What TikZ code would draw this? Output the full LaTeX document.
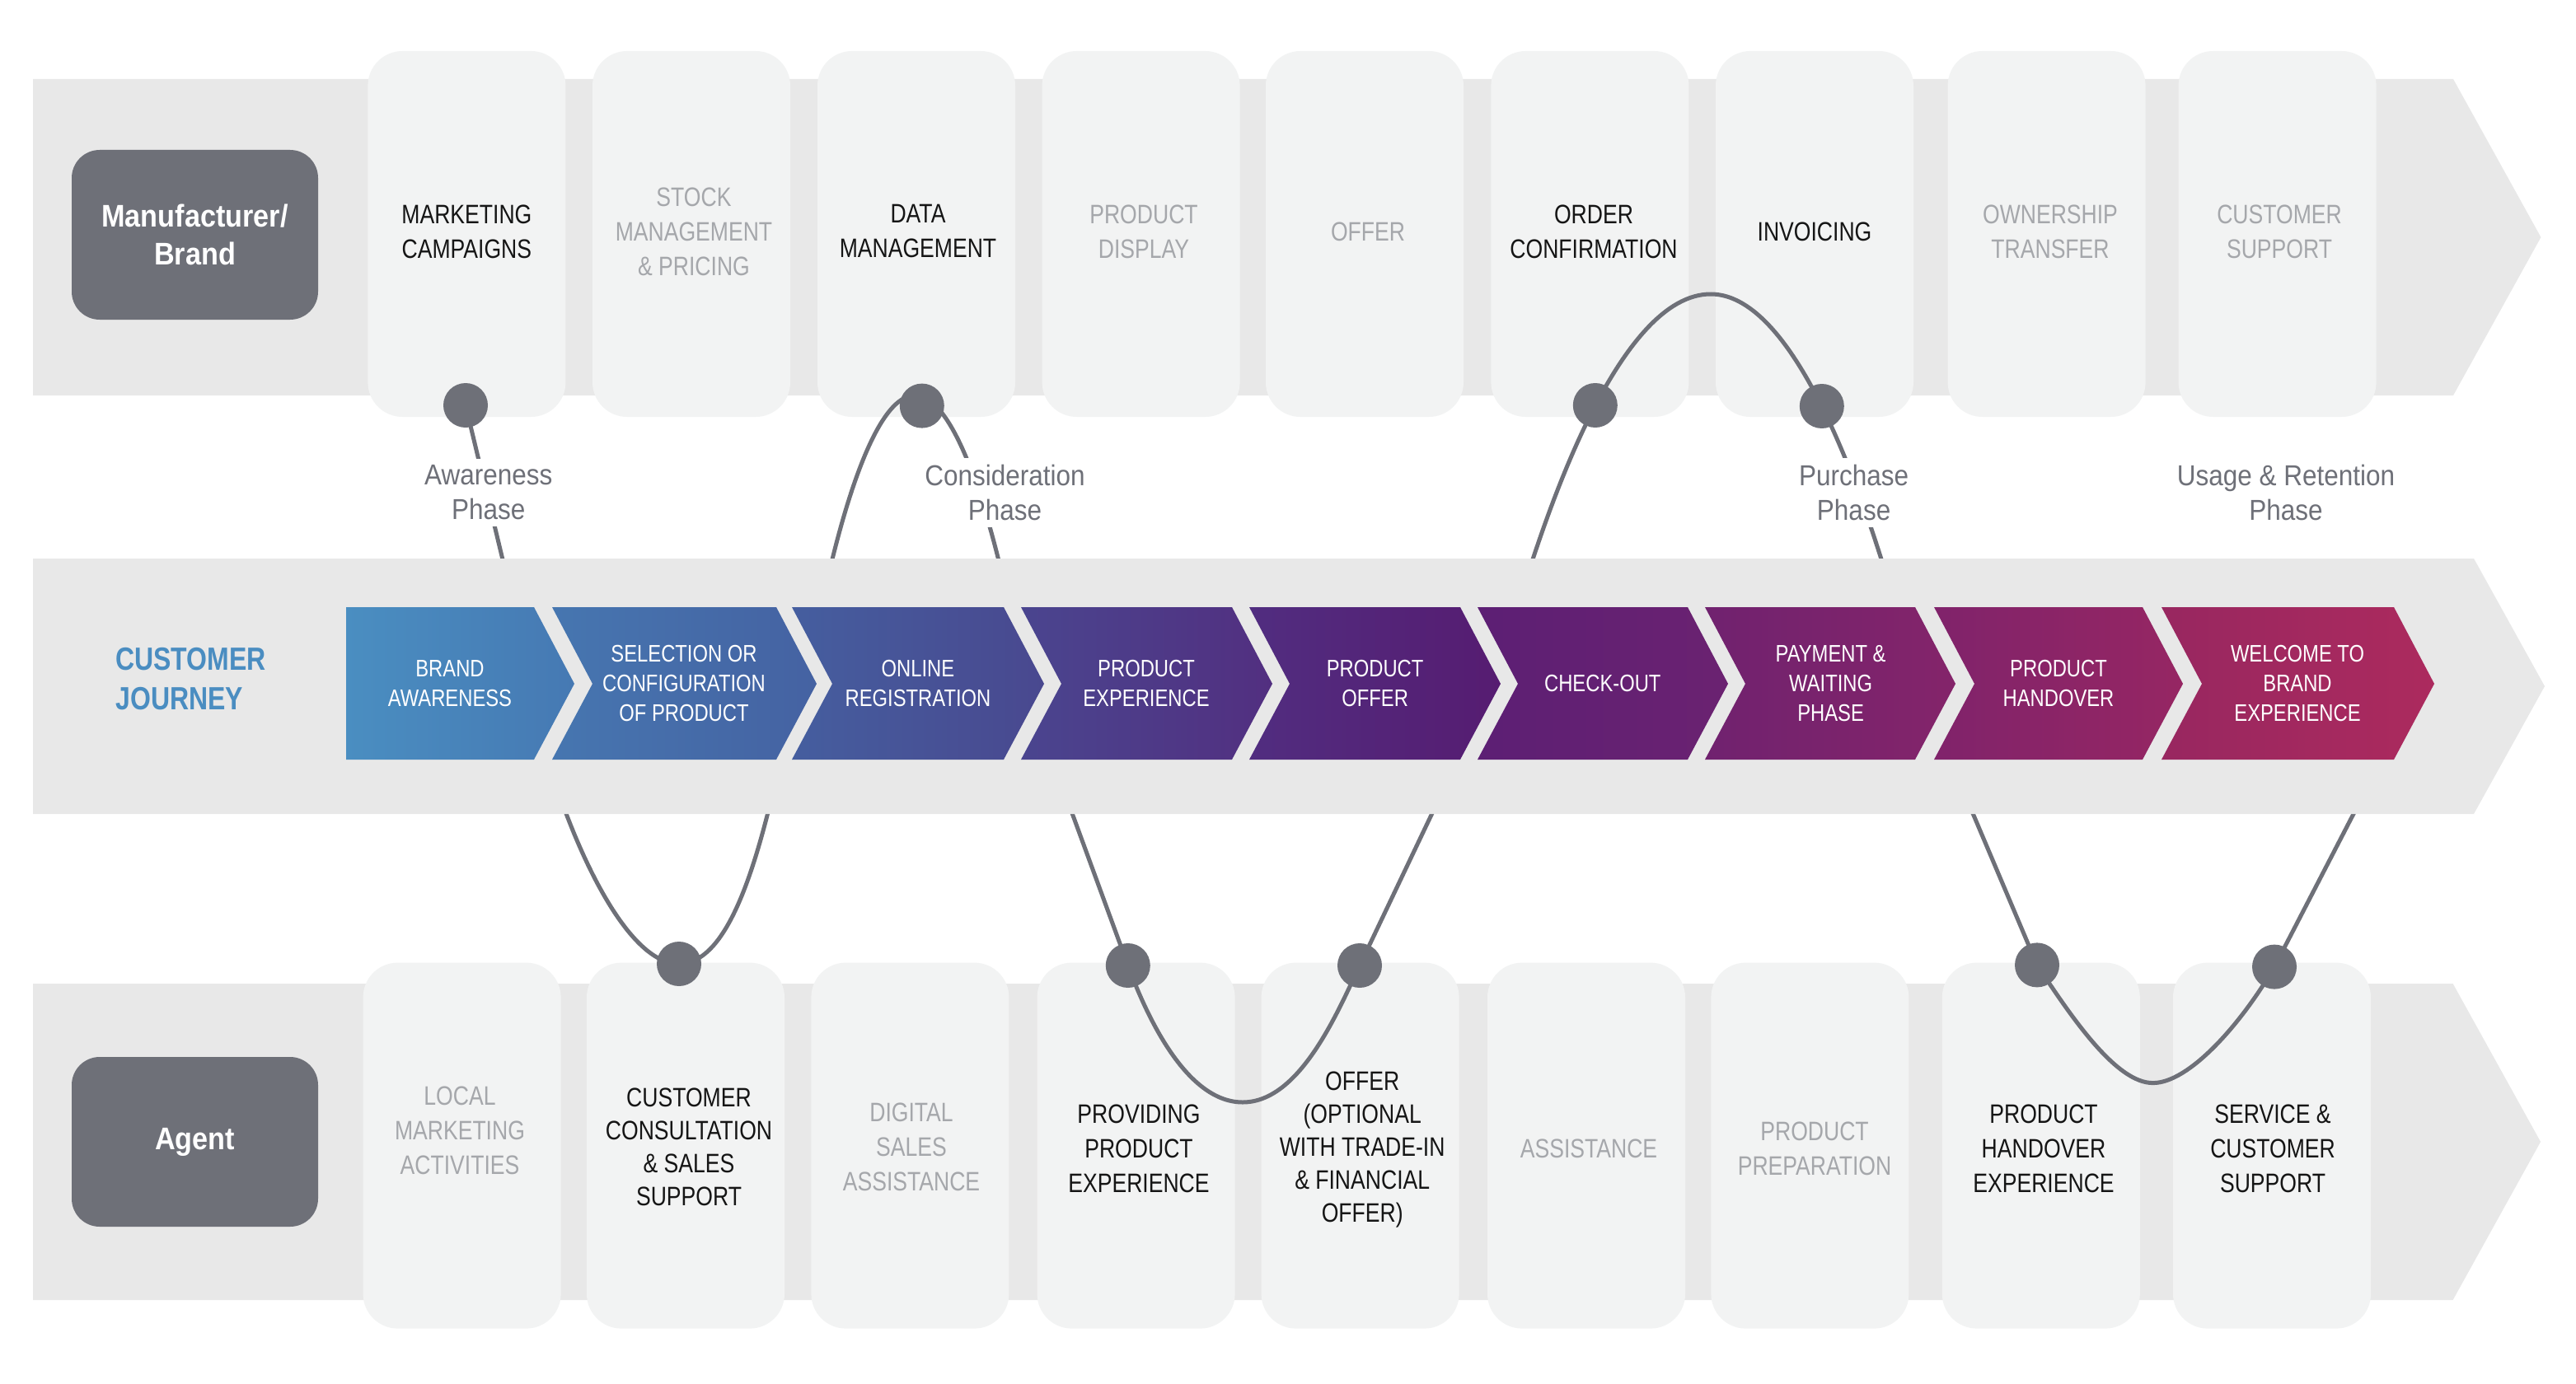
\documentclass[tikz,border=0pt]{standalone}
\usepackage{fontspec}
\setmainfont{Liberation Sans}[FakeStretch=0.82]
\newfontfamily\lblfont{Liberation Sans}[FakeStretch=0.9]
\definecolor{bandc}{HTML}{E8E8E8}
\definecolor{cardc}{HTML}{F2F3F3}
\definecolor{darkc}{HTML}{6E7078}
\definecolor{inactc}{HTML}{A5A7AB}
\definecolor{actc}{HTML}{151515}
\definecolor{bluec}{HTML}{4A8DC1}
\definecolor{ca1}{HTML}{4A8EC1}\definecolor{cb1}{HTML}{4679B3}
\definecolor{ca2}{HTML}{4676B0}\definecolor{cb2}{HTML}{4562A2}
\definecolor{ca3}{HTML}{455E9F}\definecolor{cb3}{HTML}{49488F}
\definecolor{ca4}{HTML}{4A458F}\definecolor{cb4}{HTML}{522F80}
\definecolor{ca5}{HTML}{512D80}\definecolor{cb5}{HTML}{561C71}
\definecolor{ca6}{HTML}{5C1F74}\definecolor{cb6}{HTML}{6B2271}
\definecolor{ca7}{HTML}{70226F}\definecolor{cb7}{HTML}{84246A}
\definecolor{ca8}{HTML}{80236B}\definecolor{cb8}{HTML}{962663}
\definecolor{ca9}{HTML}{982760}\definecolor{cb9}{HTML}{AC2A5E}
\pgfdeclarelayer{bgl}
\pgfdeclarelayer{curvel}
\pgfdeclarelayer{midl}
\pgfsetlayers{bgl,curvel,midl,main}
\newcommand{\drawchev}[4]{%
  \path[left color=#3, right color=#4] (#1,368.5) -- (#2,368.5) -- ({#2+24.5},415) -- (#2,461) -- (#1,461) -- ({#1+24.5},415) -- cycle;}
\begin{document}
\begin{tikzpicture}[x=1pt,y=-1pt,
  card/.style={fill=cardc, rounded corners=21pt, minimum width=120pt, minimum height=222pt, inner sep=0pt, draw=none},
  ctext/.style={align=center, inner sep=0pt, font=\fontsize{16.2}{21}\selectfont},
  ctextt/.style={align=center, inner sep=0pt, font=\fontsize{16.2}{20}\selectfont},
  act/.style={text=actc},
  ina/.style={text=inactc},
  chtext/.style={align=center, inner sep=0pt, text=white, font=\fontsize{14.5}{18}\selectfont},
  rolebox/.style={fill=darkc, rounded corners=17pt, minimum width=149.5pt, minimum height=103pt, inner sep=0pt, text=white, align=center, font=\lblfont\bfseries\fontsize{19}{23}\selectfont},
  dot/.style={circle, fill=darkc, minimum size=27pt, inner sep=0pt},
  conn/.style={draw=darkc, line width=2.5pt},
  phase/.style={align=center, fill=white, inner sep=4pt, text=darkc, font=\lblfont\fontsize{17.5}{21}\selectfont}
]
\useasboundingbox (0,0) rectangle (1563,840);

\begin{pgfonlayer}{bgl}
\fill[white] (0,0) rectangle (1563,840);
% top and bottom bands
\fill[bandc] (20,48) -- (1488.5,48) -- (1541.7,144) -- (1488.5,240) -- (20,240) -- cycle;
\fill[bandc] (20,597) -- (1488.3,597) -- (1541.5,693) -- (1488.3,789) -- (20,789) -- cycle;
% role boxes
\node[rolebox] (mfr) at (118.25,142.5) {Manufacturer/\\Brand};
\node[rolebox] (agent) at (118.25,693) {Agent};
% top cards
\node[card] (m1) at (283.2,142) {};
\node[card] (m2) at (419.5,142) {};
\node[card] (m3) at (556,142) {};
\node[card] (m4) at (692.3,142) {};
\node[card] (m5) at (828,142) {};
\node[card] (m6) at (964.7,142) {};
\node[card] (m7) at (1101,142) {};
\node[card] (m8) at (1241.8,142) {};
\node[card] (m9) at (1381.8,142) {};
\node[ctext,act] (m1t) at (283.2,140.5) {MARKETING\\CAMPAIGNS};
\node[ctext,ina] (m2t) at (421,140.5) {STOCK\\MANAGEMENT\\\& PRICING};
\node[ctext,act] (m3t) at (557,140.5) {DATA\\MANAGEMENT};
\node[ctext,ina] (m4t) at (694,140.5) {PRODUCT\\DISPLAY};
\node[ctext,ina] (m5t) at (830,140.5) {OFFER};
\node[ctext,act] (m6t) at (967,140.5) {ORDER\\CONFIRMATION};
\node[ctext,act] (m7t) at (1101,140.5) {INVOICING};
\node[ctext,ina] (m8t) at (1244,140.5) {OWNERSHIP\\TRANSFER};
\node[ctext,ina] (m9t) at (1383,140.5) {CUSTOMER\\SUPPORT};
% bottom cards
\node[card] (g1) at (280.3,695.3) {};
\node[card] (g2) at (416,695.3) {};
\node[card] (g3) at (552.2,695.3) {};
\node[card] (g4) at (689.3,695.3) {};
\node[card] (g5) at (825.3,695.3) {};
\node[card] (g6) at (962.5,695.3) {};
\node[card] (g7) at (1098.2,695.3) {};
\node[card] (g8) at (1238.4,695.3) {};
\node[card] (g9) at (1378.5,695.3) {};
\node[ctext,ina] (g1t) at (279,686) {LOCAL\\MARKETING\\ACTIVITIES};
\node[ctextt,act] (g2t) at (418,696) {CUSTOMER\\CONSULTATION\\\& SALES\\SUPPORT};
\node[ctext,ina] (g3t) at (553,696) {DIGITAL\\SALES\\ASSISTANCE};
\node[ctext,act] (g4t) at (691,697) {PROVIDING\\PRODUCT\\EXPERIENCE};
\node[ctextt,act] (g5t) at (826.6,698) {OFFER\\(OPTIONAL\\WITH TRADE-IN\\\& FINANCIAL\\OFFER)};
\node[ctext,ina] (g6t) at (964,697) {ASSISTANCE};
\node[ctext,ina] (g7t) at (1101,697) {PRODUCT\\PREPARATION};
\node[ctext,act] (g8t) at (1240,697) {PRODUCT\\HANDOVER\\EXPERIENCE};
\node[ctext,act] (g9t) at (1379,697) {SERVICE \&\\CUSTOMER\\SUPPORT};
\end{pgfonlayer}

% dots
\node[dot] (t1) at (282.5,246) {};
\node[dot] (t2) at (559.4,246.3) {};
\node[dot] (t3) at (967.9,246) {};
\node[dot] (t4) at (1105.4,246.5) {};
\node[dot] (b1) at (412,585) {};
\node[dot] (b2) at (684.4,586) {};
\node[dot] (b3) at (825,586) {};
\node[dot] (b4) at (1236,585.7) {};
\node[dot] (b5) at (1380,586.8) {};

% phase labels
\node[phase] (p1) at (296.4,299) {Awareness\\Phase};
\node[phase] (p2) at (609.8,299) {Consideration\\Phase};
\node[phase] (p3) at (1124.8,299) {Purchase\\Phase};
\node[phase] (p4) at (1387,299) {Usage \& Retention\\Phase};

% connector end points and bends
\coordinate (aw) at (307,348);
\coordinate (c2s) at (502.9,348);
\coordinate (c2m) at (555,240);
\coordinate (c2e) at (607.9,348);
\coordinate (c3s) at (927.2,348);
\coordinate (c3m) at (1038,178.5);
\coordinate (c3e) at (1144.2,348);
\coordinate (u1s) at (341,487);
\coordinate (u1e) at (467.5,487);
\coordinate (u2s) at (648.1,487);
\coordinate (u2m) at (754,669);
\coordinate (u2e) at (872.1,487);
\coordinate (u3s) at (1194.2,487);
\coordinate (u3m) at (1306.3,657.3);
\coordinate (u3e) at (1431.6,487);

\begin{pgfonlayer}{curvel}
\draw[conn] (t1.center) -- (aw);
\draw[conn] (c2s) parabola bend (c2m) (c2e);
\draw[conn] (c3s) parabola bend (c3m) (c3e);
\draw[conn] (u1s) .. controls (358,534) and (385,585) .. (b1.center)
                  .. controls (439,585) and (455.5,535.5) .. (u1e);
\draw[conn] (u2s) -- (b2.center) .. controls (694.8,614.2) and (719,669) .. (u2m)
                  .. controls (789,669) and (812.1,613) .. (b3.center) -- (u2e);
\draw[conn] (u3s) -- (b4.center) .. controls (1258,619.1) and (1284.3,657.3) .. (u3m)
                  .. controls (1328.3,657.3) and (1360,621.2) .. (b5.center) -- (u3e);
\end{pgfonlayer}

\begin{pgfonlayer}{midl}
\fill[bandc] (20,339) -- (1501,339) -- (1544,416.5) -- (1501,494) -- (20,494) -- cycle;
\node[anchor=west, align=left, inner sep=0pt, text=bluec, font=\bfseries\fontsize{19.5}{23.8}\selectfont] (cj) at (70,412) {CUSTOMER\\JOURNEY};
\path[left color=ca1, right color=cb1] (210,368.5) -- (324,368.5) -- (348.5,415) -- (324,461) -- (210,461) -- cycle;
\drawchev{335}{471}{ca2}{cb2}
\drawchev{480.5}{609}{ca3}{cb3}
\drawchev{619.5}{747.5}{ca4}{cb4}
\drawchev{758}{886}{ca5}{cb5}
\drawchev{896.5}{1024}{ca6}{cb6}
\drawchev{1034.5}{1162}{ca7}{cb7}
\drawchev{1173.5}{1300}{ca8}{cb8}
\drawchev{1311.5}{1452.5}{ca9}{cb9}
\node[chtext] (j1) at (273,415) {BRAND\\AWARENESS};
\node[chtext] (j2) at (415,415) {SELECTION OR\\CONFIGURATION\\OF PRODUCT};
\node[chtext] (j3) at (557,415) {ONLINE\\REGISTRATION};
\node[chtext] (j4) at (695.5,415) {PRODUCT\\EXPERIENCE};
\node[chtext] (j5) at (834.3,415) {PRODUCT\\OFFER};
\node[chtext] (j6) at (972.4,415) {CHECK-OUT};
\node[chtext] (j7) at (1110.8,415) {PAYMENT \&\\WAITING\\PHASE};
\node[chtext] (j8) at (1249,415) {PRODUCT\\HANDOVER};
\node[chtext] (j9) at (1394,415) {WELCOME TO\\BRAND\\EXPERIENCE};
\end{pgfonlayer}
\end{tikzpicture}
\end{document}
